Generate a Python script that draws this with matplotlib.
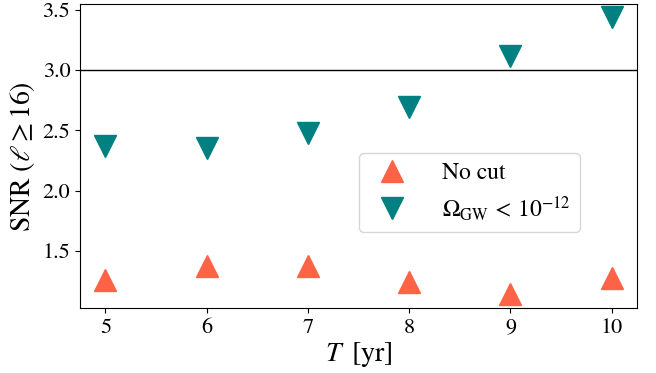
import matplotlib
matplotlib.use("Agg")
import matplotlib.pyplot as plt

T_YEARS = [5, 6, 7, 8, 9, 10]
SNR_NO_CUT = [1.257, 1.373, 1.375, 1.241, 1.14, 1.28]
SNR_OMEGA_CUT = [2.37, 2.35, 2.48, 2.69, 3.12, 3.436]
THRESHOLD = 3.0

plt.rcParams["font.family"] = ["STIXGeneral", "DejaVu Serif"]
plt.rcParams["mathtext.fontset"] = "stix"

fig, ax = plt.subplots(figsize=(6.56, 3.73), dpi=100)
fig.subplots_adjust(left=0.122, right=0.971, top=0.989, bottom=0.174)

ax.plot(T_YEARS, SNR_NO_CUT, "^", color="tomato", markersize=15.5,
        linestyle="none", label="No cut")
ax.plot(T_YEARS, SNR_OMEGA_CUT, "v", color="teal", markersize=15.5,
        linestyle="none", label=r"$\Omega_{\rm GW}\,<\,10^{-12}$")
ax.axhline(THRESHOLD, color="black", linewidth=1)

ax.set_xlim(4.75, 10.25)
ax.set_ylim(1.027, 3.546)
ax.set_yticks([1.5, 2.0, 2.5, 3.0, 3.5])
ax.tick_params(labelsize=16)
ax.set_xlabel(r"$T\;\;[{\rm yr}]$", fontsize=20, labelpad=2)
ax.set_ylabel(r"SNR ($\ell \geq 16$)", fontsize=20)

ax.legend(fontsize=17, loc="center left", bbox_to_anchor=(0.48, 0.38),
          handletextpad=1.1, borderpad=0.4, labelspacing=0.4)

fig.savefig("out.png", dpi=100)
